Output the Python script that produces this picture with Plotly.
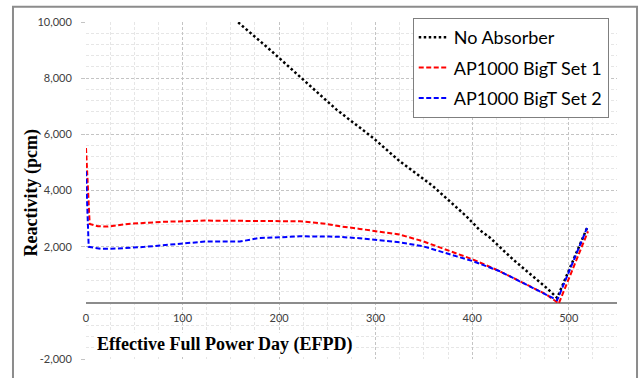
import plotly.graph_objects as go

# ---- data ----
days_noabs = [150, 157.7, 190.5, 225, 259.5, 297.4, 325, 359.5, 394, 408, 417.5, 442.4, 477, 488, 519]
react_noabs = [10230, 9986, 9014, 7947, 6879, 5872, 5039, 4150, 3082, 2584, 2349, 1541, 534, 178, 2669]

days_set1 = [0, 3.8, 12.4, 22.8, 43.5, 78, 122.9, 160, 200, 221.6, 249, 263, 283.6, 297.4, 325, 349, 376.8, 401, 428.6, 442.4, 477, 489.7, 520]
react_set1 = [5516, 2811, 2726, 2715, 2811, 2882, 2929, 2910, 2904, 2904, 2811, 2726, 2633, 2573, 2430, 2192, 1836, 1541, 1125, 890, 295, -25, 2548]

days_set2 = [0, 2.8, 15.8, 33, 60.7, 95, 123, 159.4, 180, 200.8, 221.5, 252.6, 263, 283.6, 297.4, 325, 349, 376.8, 401, 428.6, 442.4, 477, 488, 519]
react_set2 = [4683, 1993, 1922, 1932, 1993, 2110, 2181, 2181, 2313, 2335, 2370, 2359, 2349, 2299, 2253, 2157, 2014, 1719, 1481, 1125, 890, 295, 93, 2669]

x_ticks = [0, 100, 200, 300, 400, 500]
y_ticks = [-2000, 2000, 4000, 6000, 8000, 10000]
y_ticktext = ["-2,000", "2,000", "4,000", "6,000", "8,000", "10,000"]

names = ["No Absorber", "AP1000 BigT Set 1", "AP1000 BigT Set 2"]

fig = go.Figure()
fig.add_trace(go.Scatter(x=days_noabs, y=react_noabs, mode="lines", name=names[0],
                         legendgroup="a",
                         line=dict(color="black", width=2.5, dash="2.5px,2.5px")))
fig.add_trace(go.Scatter(x=days_set1, y=react_set1, mode="lines", name=names[1],
                         legendgroup="b",
                         line=dict(color="#ff0000", width=2, dash="5px,2.5px")))
fig.add_trace(go.Scatter(x=days_set2, y=react_set2, mode="lines", name=names[2],
                         legendgroup="c",
                         line=dict(color="#0000ff", width=2, dash="5px,2.5px")))

tick_font = dict(family="Lato, sans-serif", size=11, color="#404040")

fig.update_layout(
    width=639, height=378,
    margin=dict(l=86, r=22, t=22, b=19, autoexpand=False),
    paper_bgcolor="white", plot_bgcolor="white",
    showlegend=True,
    legend=dict(x=0.6153, xanchor="left", y=1 + 4 / 337, yanchor="top",
                bgcolor="white", bordercolor="#7f7f7f", borderwidth=1,
                font=dict(family="Lato, sans-serif", size=18, color="black"),
                tracegroupgap=4, traceorder="grouped", itemwidth=30),
    xaxis=dict(range=[0, 550], tickvals=x_ticks, ticktext=[str(v) for v in x_ticks],
               anchor="free", position=1/6, showline=False, zeroline=False,
               automargin=False,
               ticks="", ticklabelstandoff=7, tickfont=tick_font,
               showgrid=True, gridcolor="#c4c4c4", griddash="3px,2px", gridwidth=1,
               minor=dict(tick0=0, dtick=25, showgrid=True, gridcolor="#e6e6e6", gridwidth=1)),
    yaxis=dict(range=[-2000, 10000], tickvals=y_ticks, ticktext=y_ticktext,
               automargin=False,
               ticks="outside", ticklen=4, tickcolor="#c4c4c4", tickfont=tick_font,
               ticklabelstandoff=7,
               showgrid=True, gridcolor="#c4c4c4", griddash="3px,2px", gridwidth=1,
               zeroline=True, zerolinecolor="#8c8c8c", zerolinewidth=1.5,
               minor=dict(tick0=0, dtick=400, showgrid=True, gridcolor="#e6e6e6", gridwidth=1)),
    annotations=[
        dict(text="<b>Effective Full Power Day (EFPD)</b>", xref="paper", yref="paper",
             x=0.2627, y=0.043, xanchor="center", yanchor="middle",
             showarrow=False, bgcolor="white",
             font=dict(family="Liberation Serif, serif", size=18, color="black")),
        dict(text="<b>Reactivity (pcm)</b>", xref="paper", yref="paper",
             x=-0.1017, y=0.494, xanchor="center", yanchor="middle",
             showarrow=False, textangle=-90,
             font=dict(family="Liberation Serif, serif", size=18, color="black")),
    ],
    shapes=[
        dict(type="rect", xref="paper", yref="paper", x0=-0.1375, x1=1.0377,
             y0=-0.08, y1=1.0454, line=dict(color="#8c8c8c", width=2), layer="below"),
    ],
)

fig.write_html("out.html", config={"displayModeBar": False},
               post_script="document.body.style.margin='0';document.body.style.overflow='hidden';")
